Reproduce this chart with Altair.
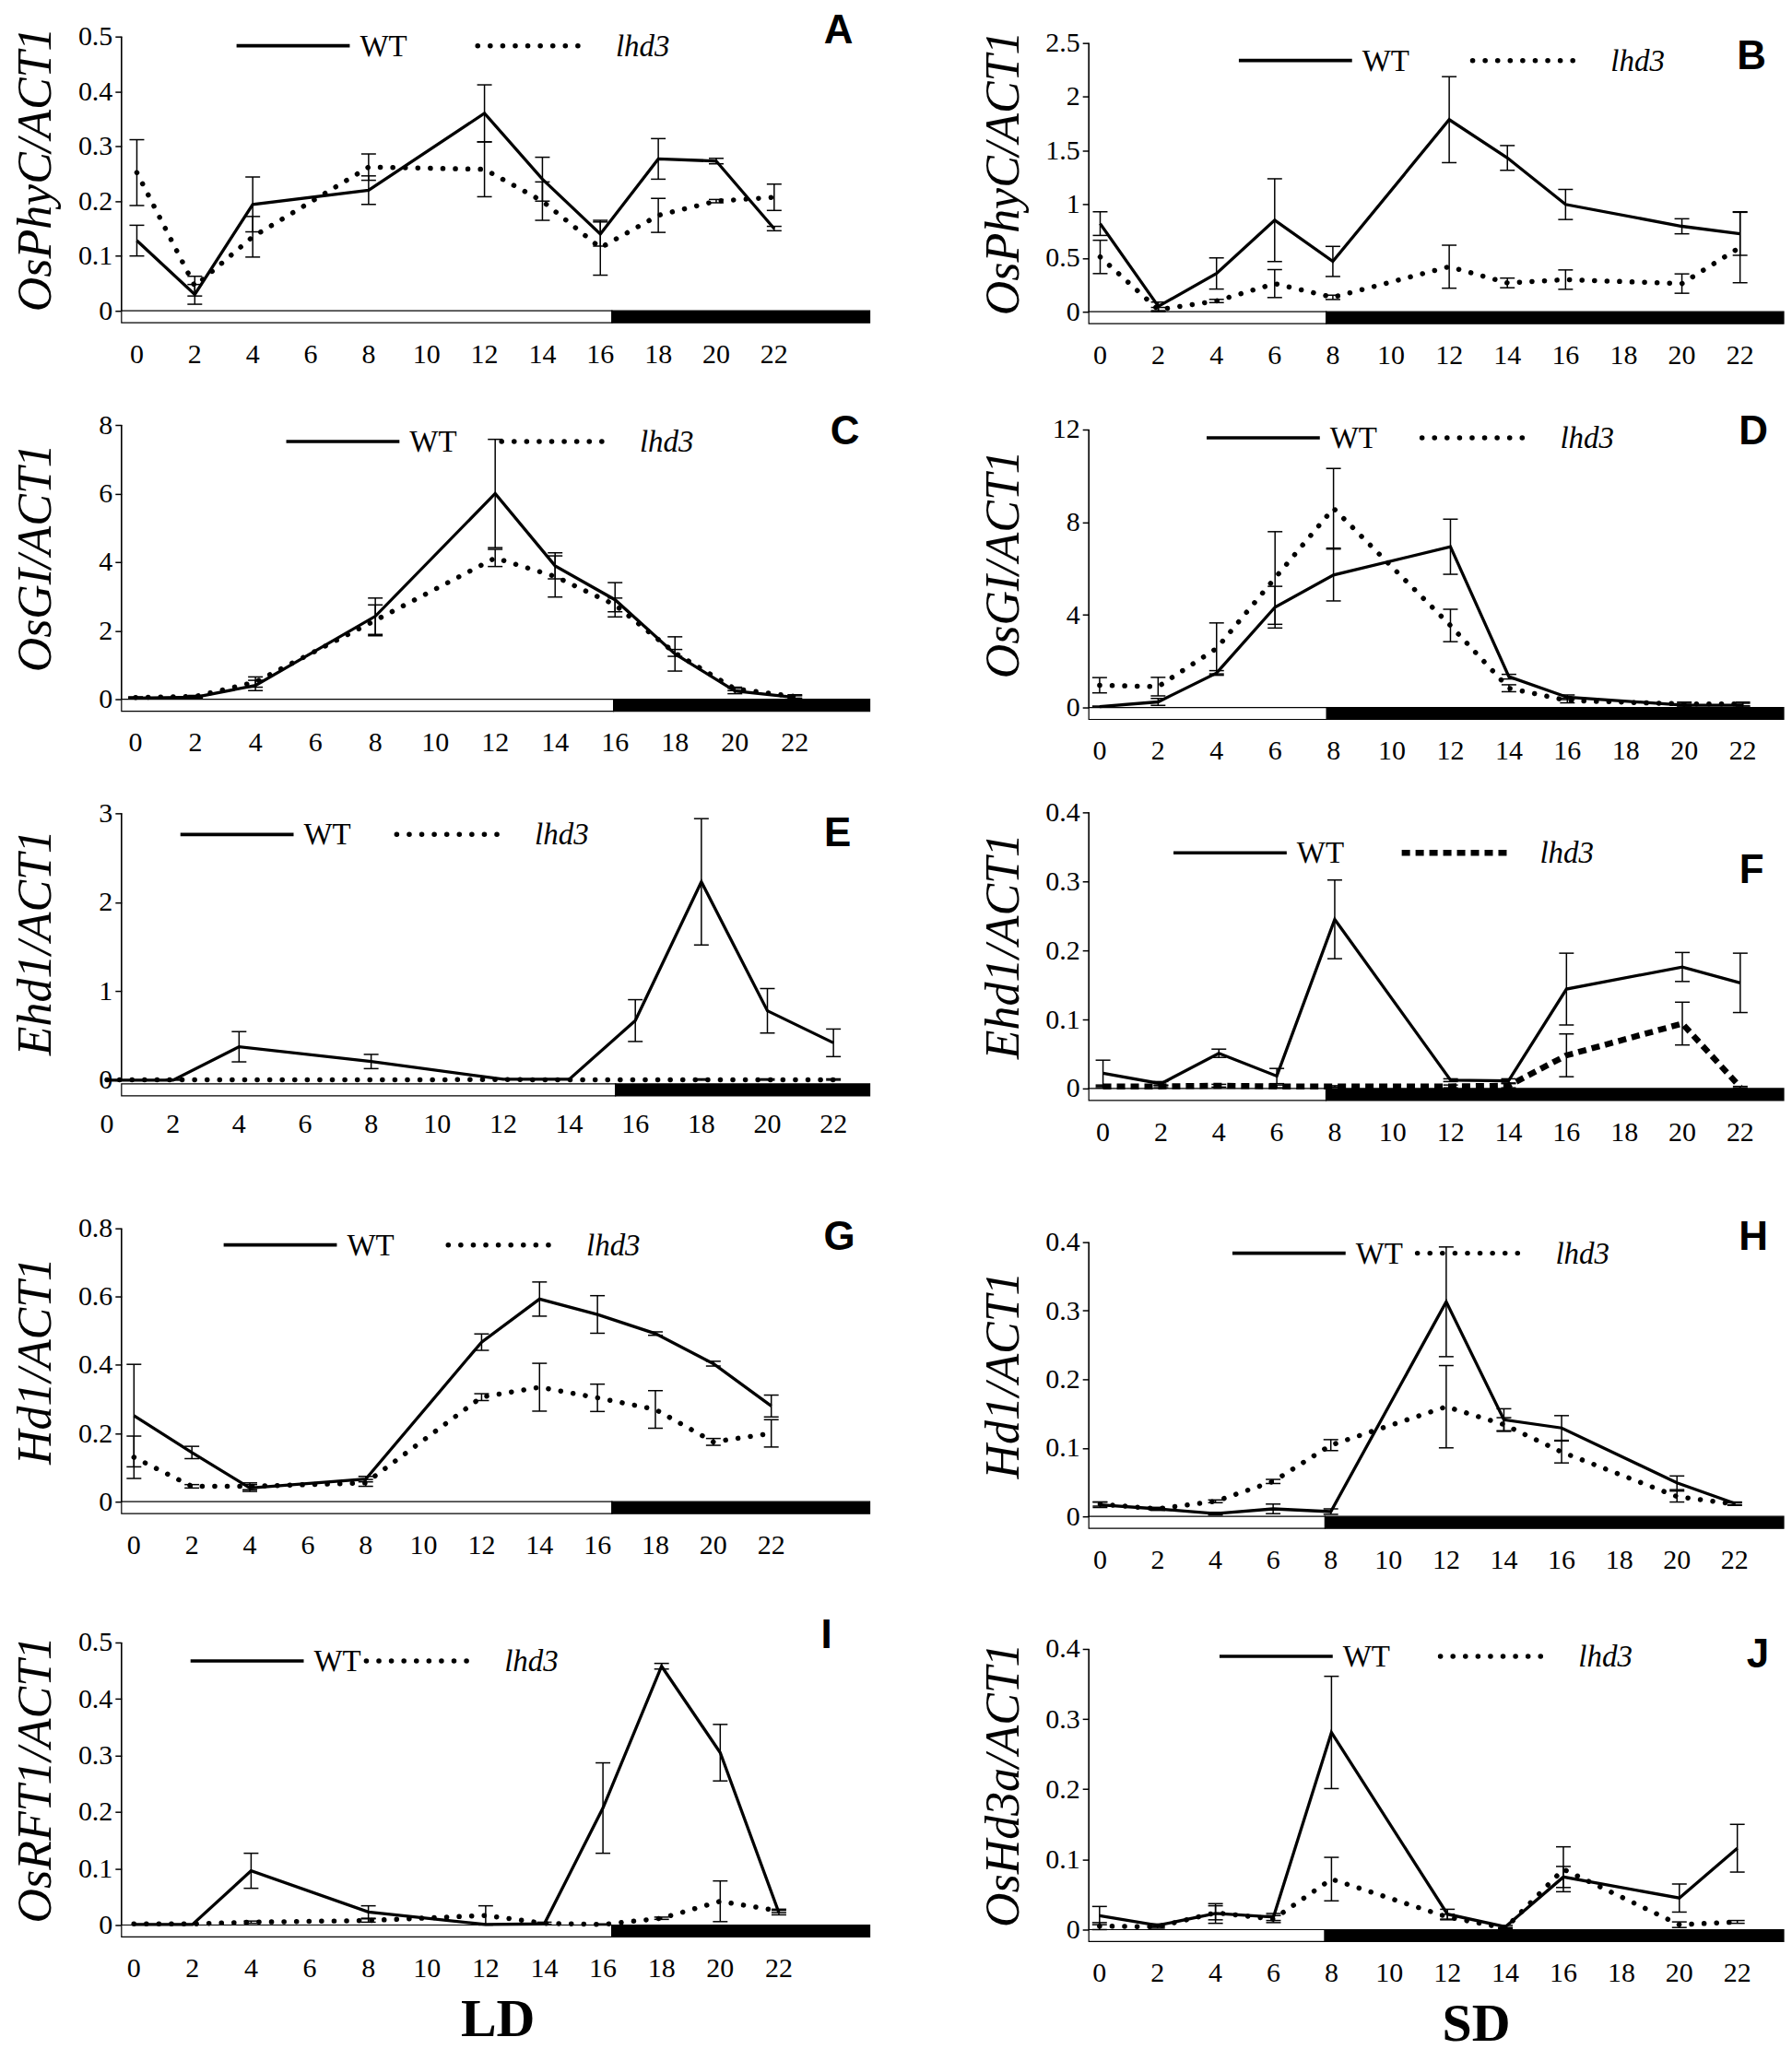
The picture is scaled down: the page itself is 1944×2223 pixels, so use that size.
import altair as alt
import pandas as pd

# ---------------- data ----------------
LD_HOURS = [0, 2, 4, 8, 12, 14, 16, 18, 20, 22]
SD_HOURS = [0, 2, 4, 6, 8, 12, 14, 16, 20, 22]
TICK_HOURS = [0, 2, 4, 6, 8, 10, 12, 14, 16, 18, 20, 22]

# A  OsPhyC (LD)
A_WT = [0.128, 0.030, 0.194, 0.220, 0.360, 0.240, 0.140, 0.277, 0.273, 0.150]
A_WT_ERR = [0.028, 0.018, 0.050, 0.026, 0.052, 0.040, 0.022, 0.037, 0.005, 0.004]
A_LHD3 = [0.252, 0.045, 0.135, 0.262, 0.258, 0.200, 0.115, 0.174, 0.200, 0.207]
A_LHD3_ERR = [0.060, 0.018, 0.037, 0.024, 0.050, 0.035, 0.050, 0.031, 0.003, 0.024]
# B  OsPhyC (SD)
B_WT = [0.82, 0.05, 0.356, 0.852, 0.468, 1.787, 1.431, 0.998, 0.795, 0.725]
B_WT_ERR = [0.11, 0.04, 0.145, 0.385, 0.14, 0.40, 0.115, 0.14, 0.07, 0.20]
B_LHD3 = [0.51, 0.02, 0.10, 0.262, 0.134, 0.419, 0.268, 0.299, 0.262, 0.60]
B_LHD3_ERR = [0.155, 0.02, 0.015, 0.13, 0.02, 0.20, 0.045, 0.09, 0.09, 0.33]
# C  OsGI (LD)
C_WT = [0.03, 0.06, 0.40, 2.42, 6.00, 3.89, 2.90, 1.32, 0.24, 0.05]
C_WT_ERR = [0.02, 0.04, 0.15, 0.53, 1.58, 0.38, 0.50, 0.50, 0.08, 0.05]
C_LHD3 = [0.05, 0.08, 0.50, 2.30, 4.12, 3.58, 2.75, 1.35, 0.30, 0.08]
C_LHD3_ERR = [0.02, 0.03, 0.15, 0.45, 0.25, 0.60, 0.20, 0.10, 0.05, 0.05]
# D  OsGI (SD)
D_WT = [0.04, 0.24, 1.49, 4.33, 5.72, 6.94, 1.33, 0.44, 0.10, 0.10]
D_WT_ERR = [0.02, 0.15, 0.10, 0.90, 1.12, 1.19, 0.10, 0.10, 0.08, 0.08]
D_LHD3 = [0.96, 0.90, 2.55, 5.59, 8.60, 3.54, 0.83, 0.30, 0.15, 0.15]
D_LHD3_ERR = [0.33, 0.40, 1.10, 2.00, 1.72, 0.70, 0.15, 0.10, 0.08, 0.08]
# E  Ehd1 (LD)
E_WT = [0.0, 0.0, 0.376, 0.21, 0.01, 0.01, 0.67, 2.23, 0.78, 0.42]
E_WT_ERR = [0.0, 0.0, 0.17, 0.08, 0.0, 0.0, 0.235, 0.71, 0.25, 0.155]
E_LHD3 = [0.004, 0.004, 0.005, 0.005, 0.006, 0.005, 0.004, 0.005, 0.005, 0.005]
E_LHD3_ERR = [0.0, 0.005, 0.0, 0.0, 0.0, 0.0, 0.0, 0.01, 0.01, 0.01]
# F  Ehd1 (SD)
F_WT = [0.022, 0.007, 0.051, 0.018, 0.245, 0.012, 0.011, 0.144, 0.176, 0.153]
F_WT_ERR = [0.019, 0.003, 0.006, 0.011, 0.057, 0.002, 0.003, 0.052, 0.021, 0.043]
F_LHD3 = [0.003, 0.003, 0.004, 0.003, 0.003, 0.003, 0.004, 0.048, 0.094, 0.002]
F_LHD3_ERR = [0.002, 0.002, 0.002, 0.002, 0.001, 0.002, 0.003, 0.031, 0.031, 0.001]
# G  Hd1 (LD)
G_WT = [0.252, 0.144, 0.040, 0.066, 0.467, 0.593, 0.548, 0.492, 0.404, 0.280]
G_WT_ERR = [0.150, 0.018, 0.010, 0.008, 0.024, 0.050, 0.055, 0.005, 0.007, 0.032]
G_LHD3 = [0.130, 0.045, 0.045, 0.055, 0.306, 0.335, 0.304, 0.270, 0.175, 0.200]
G_LHD3_ERR = [0.062, 0.005, 0.010, 0.010, 0.010, 0.070, 0.040, 0.055, 0.010, 0.040]
# H  Hd1 (SD)
H_WT = [0.017, 0.011, 0.004, 0.011, 0.007, 0.313, 0.141, 0.129, 0.049, 0.019]
H_WT_ERR = [0.004, 0.002, 0.002, 0.007, 0.004, 0.080, 0.016, 0.018, 0.010, 0.002]
H_LHD3 = [0.018, 0.011, 0.022, 0.051, 0.104, 0.160, 0.134, 0.094, 0.029, 0.018]
H_LHD3_ERR = [0.003, 0.002, 0.002, 0.003, 0.008, 0.060, 0.010, 0.016, 0.008, 0.002]
# I  OsRFT1 (LD)
I_WT = [0.001, 0.001, 0.096, 0.023, 0.001, 0.002, 0.207, 0.458, 0.305, 0.022]
I_WT_ERR = [0.0, 0.0, 0.031, 0.011, 0.0, 0.0, 0.080, 0.005, 0.050, 0.004]
I_LHD3 = [0.002, 0.002, 0.005, 0.008, 0.017, 0.003, 0.001, 0.012, 0.042, 0.025]
I_LHD3_ERR = [0.0, 0.0, 0.002, 0.003, 0.017, 0.002, 0.001, 0.002, 0.036, 0.003]
# J  OsHd3a (SD)
J_WT = [0.020, 0.006, 0.023, 0.018, 0.281, 0.022, 0.004, 0.075, 0.045, 0.116]
J_WT_ERR = [0.013, 0.002, 0.014, 0.005, 0.080, 0.007, 0.002, 0.015, 0.020, 0.034]
J_LHD3 = [0.005, 0.004, 0.024, 0.015, 0.072, 0.018, 0.002, 0.086, 0.007, 0.011]
J_LHD3_ERR = [0.005, 0.002, 0.010, 0.005, 0.031, 0.004, 0.001, 0.032, 0.004, 0.002]

Y_TITLES = {"A": "OsPhyC/ACT1", "B": "OsPhyC/ACT1", "C": "OsGI/ACT1", "D": "OsGI/ACT1",
            "E": "Ehd1/ACT1", "F": "Ehd1/ACT1", "G": "Hd1/ACT1", "H": "Hd1/ACT1",
            "I": "OsRFT1/ACT1", "J": "OsHd3a/ACT1"}
Y_TICKS = {"A": [0, 0.1, 0.2, 0.3, 0.4, 0.5], "B": [0, 0.5, 1, 1.5, 2, 2.5],
           "C": [0, 2, 4, 6, 8], "D": [0, 4, 8, 12], "E": [0, 1, 2, 3],
           "F": [0, 0.1, 0.2, 0.3, 0.4], "G": [0, 0.2, 0.4, 0.6, 0.8],
           "H": [0, 0.1, 0.2, 0.3, 0.4], "I": [0, 0.1, 0.2, 0.3, 0.4, 0.5],
           "J": [0, 0.1, 0.2, 0.3, 0.4]}
# end of the light period (h) as drawn under each panel
LIGHT_END = {"A": 16.4, "B": 7.77, "C": 15.95, "D": 7.77, "E": 15.4, "F": 7.7,
             "G": 16.5, "H": 7.8, "I": 16.3, "J": 7.77}
PERIOD_LABEL = {"I": "LD", "J": "SD"}

SERIES = {
    "A": (LD_HOURS, A_WT, A_WT_ERR, A_LHD3, A_LHD3_ERR),
    "B": (SD_HOURS, B_WT, B_WT_ERR, B_LHD3, B_LHD3_ERR),
    "C": (LD_HOURS, C_WT, C_WT_ERR, C_LHD3, C_LHD3_ERR),
    "D": (SD_HOURS, D_WT, D_WT_ERR, D_LHD3, D_LHD3_ERR),
    "E": (LD_HOURS, E_WT, E_WT_ERR, E_LHD3, E_LHD3_ERR),
    "F": (SD_HOURS, F_WT, F_WT_ERR, F_LHD3, F_LHD3_ERR),
    "G": (LD_HOURS, G_WT, G_WT_ERR, G_LHD3, G_LHD3_ERR),
    "H": (SD_HOURS, H_WT, H_WT_ERR, H_LHD3, H_LHD3_ERR),
    "I": (LD_HOURS, I_WT, I_WT_ERR, I_LHD3, I_LHD3_ERR),
    "J": (SD_HOURS, J_WT, J_WT_ERR, J_LHD3, J_LHD3_ERR),
}

# ---------------- layout / style ----------------
SERIF = "Liberation Serif"
SANS = "Liberation Sans"
ROW_TOP = [35, 444, 874, 1288, 1753]
ROW_BOTTOM = [334, 764, 1178, 1643, 2092]
ROW_GAP = 110
COL_GAP = 238
WIDTHS = [813, 755]
TITLE_SIZE = 52
TITLE_X = -93

LAYOUT = {  # top tick px, zero px, x domain, legend (x, dx, dy), letter (dx from right, dy), bar dy
    "A": dict(top=35, zero=333, xdom=[-0.53, 25.3], leg=(125, 262, 10), let=(-34, -6), bar_dy=0),
    "B": dict(top=42, zero=334, xdom=[-0.39, 23.5], leg=(163, 254, 19), let=(-35, 15), bar_dy=0),
    "C": dict(top=457, zero=755, xdom=[-0.47, 24.5], leg=(179, 234, 18), let=(-27, 8), bar_dy=0),
    "D": dict(top=462, zero=764, xdom=[-0.37, 23.4], leg=(128, 234, 9), let=(-33, 3), bar_dy=0),
    "E": dict(top=879, zero=1169, xdom=[0.44, 23.1], leg=(64, 235, 23), let=(-35, 23), bar_dy=4),
    "F": dict(top=878, zero=1178, xdom=[-0.49, 23.5], leg=(92, 248, 44), let=(-35, 64), bar_dy=0),
    "G": dict(top=1330, zero=1627, xdom=[-0.43, 25.4], leg=(111, 244, 18), let=(-33, 10), bar_dy=0),
    "H": dict(top=1345, zero=1643, xdom=[-0.39, 23.7], leg=(156, 201, 12), let=(-33, -5), bar_dy=0),
    "I": dict(top=1780, zero=2087, xdom=[-0.42, 25.1], leg=(75, 191, 20), let=(-47, -7), bar_dy=0),
    "J": dict(top=1787, zero=2092, xdom=[-0.37, 23.6], leg=(142, 240, 8), let=(-28, 7), bar_dy=0),
}
DOT_STYLE = dict(strokeWidth=5.5, strokeDash=[0.1, 13.5], strokeCap="round")
SQUARE_STYLE = dict(strokeWidth=6.5, strokeDash=[9, 6], strokeCap="butt")
MUTANT_STYLE = {k: (SQUARE_STYLE if k == "F" else DOT_STYLE) for k in LAYOUT}

DUMMY = pd.DataFrame({"a": [0]})


def make_panel(key, row, width):
    lay = LAYOUT[key]
    hours, wt, wt_err, mu, mu_err = SERIES[key]
    yt = Y_TICKS[key]
    row_top, row_bottom = ROW_TOP[row], ROW_BOTTOM[row]
    t, z = lay["top"], lay["zero"]
    m = yt[-1]
    k = (z - t) / m
    lo = (z - row_bottom) / k
    hi = (z - row_top) / k
    H = row_bottom - row_top
    t_rel = t - row_top
    z_rel = z - row_top

    xs = alt.Scale(domain=lay["xdom"], nice=False, zero=False)
    ys = alt.Scale(domain=[lo, hi], nice=False, zero=False)
    yaxis = alt.Axis(values=yt, labelExpr="'' + datum.value", title=Y_TITLES[key],
                     domain=False, grid=False,
                     ticks=True, tickSize=7, tickWidth=1.5, tickColor="black",
                     labelFont=SERIF, labelFontSize=30, labelColor="black", labelPadding=3,
                     labelOverlap=False,
                     titleFont=SERIF, titleFontSize=TITLE_SIZE, titleFontStyle="italic",
                     titleFontWeight="normal", titleColor="black",
                     titleX=TITLE_X, titleY=(t + z) / 2 - 5 - row_top, titleAngle=270,
                     titleAlign="center", titleBaseline="middle")

    def X(f):
        return alt.X(f, type="quantitative", scale=xs, axis=None)

    def Y(f):
        return alt.Y(f, type="quantitative", scale=ys, axis=yaxis)

    recs = []
    for s, vals, errs in (("WT", wt, wt_err), ("lhd3", mu, mu_err)):
        for h, v, e in zip(hours, vals, errs):
            recs.append({"h": h, "v": v, "e": e, "lo": max(v - e, 0.0), "hi": v + e, "s": s})
    df = pd.DataFrame(recs)
    err_df = df[df["e"] > 0]

    xdom = lay["xdom"]
    le = LIGHT_END[key]
    bar_df = pd.DataFrame({"x": [xdom[0], le], "x2": [le, xdom[1]], "y0": [0, 0],
                           "fill": ["white", "black"]})
    bd = lay["bar_dy"]
    bar = alt.Chart(bar_df).mark_rect(stroke="black", strokeWidth=1.2, yOffset=bd,
                                      y2Offset=bd + 13).encode(
        x=X("x"), x2="x2", y=Y("y0"), y2="y0", fill=alt.Fill("fill:N", scale=None))

    yline = alt.Chart(pd.DataFrame({"y0": [0], "y1": [m]})).mark_rule(
        color="black", strokeWidth=1.6).encode(x=alt.value(0), y=Y("y0"), y2="y1")

    err_rule = alt.Chart(err_df).mark_rule(color="black", strokeWidth=1.5).encode(
        x=X("h"), y=Y("lo"), y2="hi")
    cap_lo = alt.Chart(err_df).mark_rule(color="black", strokeWidth=1.5, xOffset=-8,
                                         x2Offset=8).encode(x=X("h"), x2="h", y=Y("lo"))
    cap_hi = alt.Chart(err_df).mark_rule(color="black", strokeWidth=1.5, xOffset=-8,
                                         x2Offset=8).encode(x=X("h"), x2="h", y=Y("hi"))

    mst = MUTANT_STYLE[key]
    mu_line = alt.Chart(df[df["s"] == "lhd3"]).mark_line(color="black", **mst).encode(
        x=X("h"), y=Y("v"))
    wt_line = alt.Chart(df[df["s"] == "WT"]).mark_line(color="black", strokeWidth=3.3).encode(
        x=X("h"), y=Y("v"))

    lx, ldx, ldy = lay["leg"]
    ly = t_rel + ldy
    leg_wt = alt.Chart(DUMMY).mark_rule(color="black", strokeWidth=3.6).encode(
        x=alt.value(lx), x2=alt.value(lx + 123), y=alt.value(ly))
    leg_wt_t = alt.Chart(DUMMY).mark_text(text="WT", font=SERIF, fontSize=33, align="left",
                                          baseline="middle", color="black").encode(
        x=alt.value(lx + 134), y=alt.value(ly + 1))
    leg_mu = alt.Chart(DUMMY).mark_rule(color="black", **mst).encode(
        x=alt.value(lx + ldx), x2=alt.value(lx + ldx + 120), y=alt.value(ly))
    leg_mu_t = alt.Chart(DUMMY).mark_text(text="lhd3", font=SERIF, fontSize=33,
                                          fontStyle="italic", align="left",
                                          baseline="middle", color="black").encode(
        x=alt.value(lx + ldx + 150), y=alt.value(ly + 1))

    ldx2, ldy2 = lay["let"]
    letter = alt.Chart(DUMMY).mark_text(text=key, font=SANS, fontWeight="bold", fontSize=44,
                                        align="center", baseline="middle",
                                        color="black").encode(
        x=alt.value(width + ldx2), y=alt.value(t_rel + ldy2))

    xl_df = pd.DataFrame({"h": TICK_HOURS, "lab": [str(h) for h in TICK_HOURS],
                          "y0": [0] * len(TICK_HOURS)})
    xlab = alt.Chart(xl_df).mark_text(font=SERIF, fontSize=30, baseline="middle",
                                      align="center", dy=48, color="black").encode(
        x=X("h"), y=Y("y0"), text="lab:N")

    layers = [bar, yline, err_rule, cap_lo, cap_hi, mu_line, wt_line,
              leg_wt, leg_wt_t, leg_mu, leg_mu_t, letter, xlab]

    if key in PERIOD_LABEL:
        px = 409 if key == "I" else 421
        per = alt.Chart(DUMMY).mark_text(text=PERIOD_LABEL[key], font=SERIF, fontSize=58,
                                         fontWeight="bold", align="center",
                                         baseline="middle", color="black").encode(
            x=alt.value(px), y=alt.value(z_rel + 104))
        layers.append(per)

    return alt.layer(*layers).properties(width=width, height=H)


panels = []
for i, key in enumerate("ABCDEFGHIJ"):
    panels.append(make_panel(key, i // 2, WIDTHS[i % 2]))

chart = alt.concat(*panels, columns=2, bounds="flush",
                   spacing={"row": ROW_GAP, "column": COL_GAP}).properties(
    padding={"left": 4, "top": 2, "right": 0, "bottom": 0},
    background="white").configure_view(stroke=None)

chart.save("out.html", embed_options={"renderer": "svg", "actions": False})
